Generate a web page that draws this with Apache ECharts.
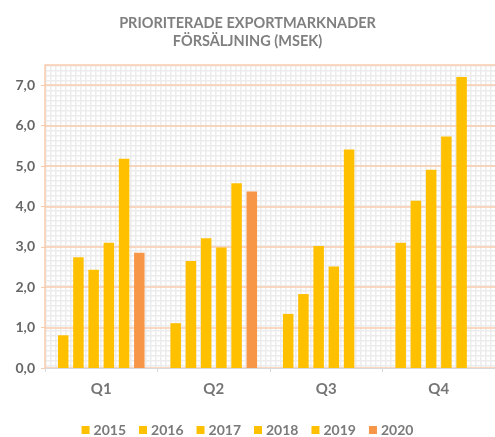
<!DOCTYPE html>
<html><head><meta charset="utf-8">
<script src="https://cdn.jsdelivr.net/npm/echarts@6/dist/echarts.min.js"></script>
<style>html,body{margin:0;padding:0;background:#fff}#c{width:495px;height:437px}</style>
</head><body><div id="c"></div>
<script>
const categories = ['Q1', 'Q2', 'Q3', 'Q4'];
const years = ['2015', '2016', '2017', '2018', '2019', '2020'];
const v2015 = [0.81, 1.11, 1.34, 3.10];
const v2016 = [2.74, 2.65, 1.83, 4.14];
const v2017 = [2.43, 3.21, 3.02, 4.91];
const v2018 = [3.10, 2.98, 2.51, 5.73];
const v2019 = [5.18, 4.57, 5.41, 7.20];
const v2020 = [2.85, 4.37, null, null];
const yearValues = [v2015, v2016, v2017, v2018, v2019, v2020];
const colors = ['#ffc000', '#ffc000', '#ffc000', '#ffc000', '#ffc000', '#f79646'];

const pc = document.createElement('canvas');
pc.width = 5; pc.height = 5;
const g = pc.getContext('2d');
g.fillStyle = '#ffffff'; g.fillRect(0, 0, 5, 5);
g.fillStyle = '#ececec'; g.fillRect(0, 0, 1.5, 5); g.fillRect(0, 0, 5, 1.5);

const chart = echarts.init(document.getElementById('c'));
chart.setOption({
  animation: false,
  title: {
    text: 'PRIORITERADE EXPORTMARKNADER\nFÖRSÄLJNING (MSEK)',
    left: 'center', top: 9,
    textStyle: { fontFamily: 'Lato', fontSize: 14.5, fontWeight: 'bold', color: '#7f7f7f', lineHeight: 18 }
  },
  grid: {
    left: 45, top: 65, width: 460, height: 303,
    show: true, borderWidth: 0,
    backgroundColor: { image: pc, repeat: 'repeat' }
  },
  legend: {
    top: 418, left: 'center', itemWidth: 8, itemHeight: 8, itemGap: 13,
    icon: 'rect',
    textStyle: { fontFamily: 'Lato', fontSize: 14, fontWeight: 'bold', color: '#7a7a7a', padding: [0, 0, 0, -1] },
    data: years
  },
  xAxis: {
    type: 'category', data: categories,
    axisLine: { lineStyle: { color: '#d9d9d9', width: 1 } },
    axisTick: { show: true, length: 4, lineStyle: { color: '#d9d9d9' } },
    axisLabel: { fontFamily: 'Lato', fontSize: 15, fontWeight: 'bold', color: '#757575', margin: 14 }
  },
  yAxis: {
    type: 'value', min: 0, max: 7.5, interval: 1,
    axisLine: { show: true, lineStyle: { color: '#f8cbad', width: 1.5 } },
    axisTick: { show: true, length: 4, lineStyle: { color: '#f8cbad' } },
    splitLine: { lineStyle: { color: '#f8cbad', width: 1.5 } },
    axisLabel: {
      showMaxLabel: false,
      fontFamily: 'Lato', fontSize: 14, fontWeight: 'bold', color: '#666666', margin: 10,
      formatter: v => v.toFixed(1).replace('.', ',')
    }
  },
  series: years.map((y, i) => ({
    name: y, type: 'bar', data: yearValues[i],
    barWidth: 10.5, barGap: '45%', barCategoryGap: '24%',
    itemStyle: { color: colors[i] }
  }))
});
</script></body></html>
